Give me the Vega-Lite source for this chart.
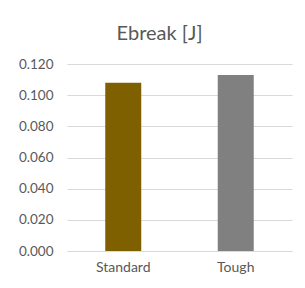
{
  "$schema": "https://vega.github.io/schema/vega-lite/v6.json",
  "width": 225,
  "height": 187,
  "padding": {"left": 18, "top": 24, "right": 14, "bottom": 8},
  "background": "#ffffff",
  "title": {"text": "Ebreak [J]", "fontSize": 20, "font": "Lato", "fontWeight": "normal", "color": "#595959", "offset": 13, "dx": -20},
  "data": {"values": [
    {"type": "Standard", "ebreak": 0.108},
    {"type": "Tough", "ebreak": 0.113}
  ]},
  "mark": {"type": "bar"},
  "encoding": {
    "x": {"field": "type", "type": "nominal", "sort": null,
      "scale": {"paddingInner": 0.68, "paddingOuter": 0.34},
      "axis": {"title": null, "labelAngle": 0, "labelFont": "Lato", "labelFontSize": 14, "labelColor": "#595959", "ticks": false, "domainColor": "#D9D9D9", "labelPadding": 9}},
    "y": {"field": "ebreak", "type": "quantitative",
      "scale": {"domain": [0, 0.12]},
      "axis": {"title": null, "format": ".3f", "values": [0, 0.02, 0.04, 0.06, 0.08, 0.1, 0.12], "labelFont": "Lato", "labelFontSize": 13.5, "labelColor": "#595959", "ticks": false, "domain": false, "gridColor": "#D9D9D9", "labelPadding": 14}},
    "color": {"field": "type", "type": "nominal", "scale": {"domain": ["Standard", "Tough"], "range": ["#7F6000", "#808080"]}, "legend": null}
  },
  "config": {"view": {"stroke": null}}
}
